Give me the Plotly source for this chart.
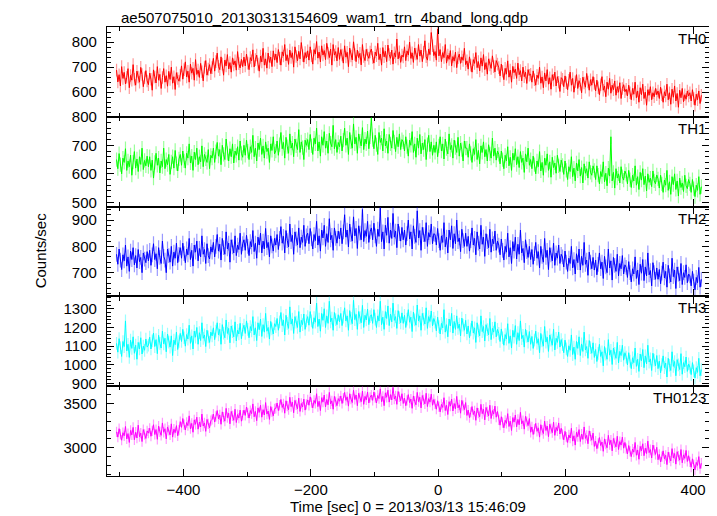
import numpy as np
import plotly.graph_objects as go
from plotly.subplots import make_subplots

TITLE = "ae507075010_20130313154609_wam1_trn_4band_long.qdp"
X_TITLE = "Time [sec] 0 = 2013/03/13 15:46:09"
Y_TITLE = "Counts/sec"
T_START = -505.0
BIN = 2.0

band_names = ["TH0", "TH1", "TH2", "TH3", "TH0123"]

th0 = [
    688, 641, 670, 625, 702, 655, 679, 633, 660, 694, 618, 667, 648, 710, 652, 628, 684, 661, 640, 699, 671, 622, 658, 686, 645,
    630, 676, 652, 608, 689, 661, 637, 702, 648, 671, 615, 659, 694, 640, 666, 624, 683, 651, 700, 636, 662, 611, 678, 655, 644,
    668, 705, 652, 690, 721, 661, 684, 640, 712, 676, 695, 648, 730, 671, 688, 659, 715, 682, 645, 700, 726, 668, 692, 710, 674,
    698, 735, 684, 722, 756, 703, 690, 741, 712, 668, 728, 705, 750, 693, 718, 680, 737, 709, 725, 688, 762, 714, 697, 731, 702,
    740, 705, 752, 716, 690, 738, 725, 769, 701, 730, 748, 712, 684, 744, 721, 775, 708, 733, 696, 756, 719, 740, 702, 765, 728,
    752, 718, 770, 735, 708, 761, 744, 790, 726, 749, 711, 768, 738, 757, 700, 781, 742, 725, 763, 733, 798, 746, 720, 758, 737,
    765, 728, 781, 744, 712, 770, 752, 802, 736, 760, 721, 785, 748, 766, 730, 795, 755, 738, 772, 708, 790, 748, 762, 725, 778,
    731, 770, 748, 716, 785, 740, 759, 702, 776, 744, 729, 801, 750, 722, 768, 738, 755, 709, 790, 742, 726, 771, 748, 735, 760,
    772, 738, 716, 760, 745, 795, 730, 752, 708, 778, 741, 763, 722, 788, 750, 735, 768, 712, 757, 740, 812, 733, 761, 719, 748,
    740, 781, 726, 765, 748, 800, 735, 757, 719, 776, 752, 731, 790, 744, 768, 722, 759, 805, 741, 728, 772, 750, 838, 785, 746,
    762, 728, 852, 745, 770, 722, 758, 738, 790, 716, 748, 731, 766, 705, 742, 724, 760, 698, 737, 752, 715, 741, 727, 775, 710,
    725, 692, 741, 708, 680, 730, 715, 758, 698, 722, 685, 737, 704, 750, 690, 718, 672, 733, 709, 695, 745, 702, 681, 726, 712,
    698, 665, 712, 684, 650, 695, 672, 725, 660, 688, 640, 703, 678, 692, 655, 716, 670, 686, 645, 700, 662, 680, 635, 690, 668,
    672, 640, 685, 650, 628, 668, 655, 700, 636, 661, 618, 677, 645, 690, 632, 658, 612, 670, 648, 680, 625, 662, 640, 603, 658,
    652, 622, 665, 638, 610, 648, 680, 628, 655, 600, 642, 670, 615, 646, 632, 598, 660, 637, 620, 675, 641, 608, 650, 628, 662,
    635, 605, 648, 618, 590, 630, 662, 608, 625, 582, 640, 612, 655, 596, 628, 610, 645, 588, 622, 600, 638, 575, 615, 630, 602,
    612, 585, 628, 598, 570, 615, 592, 640, 578, 605, 560, 618, 590, 632, 575, 600, 548, 610, 588, 622, 570, 598, 582, 615, 590,
    605, 575, 620, 590, 560, 602, 585, 632, 570, 598, 552, 612, 580, 625, 565, 595, 540, 608, 578, 615, 562, 590, 572, 605, 585,
    598, 565, 610, 575, 548, 592, 570, 605, 555, 588]

th1 = [
    650, 618, 671, 632, 600, 655, 640, 688, 612, 645, 625, 666, 595, 641, 678, 620, 652, 608, 660, 633, 690, 615, 647, 628, 662,
    625, 660, 612, 648, 585, 640, 672, 630, 655, 603, 645, 625, 690, 618, 650, 632, 668, 598, 642, 660, 620, 682, 636, 610, 652,
    668, 630, 680, 645, 620, 672, 655, 705, 638, 662, 612, 676, 650, 690, 632, 660, 642, 698, 625, 668, 652, 640, 685, 618, 665,
    655, 690, 640, 678, 710, 662, 685, 632, 700, 668, 650, 722, 672, 645, 688, 660, 705, 638, 680, 665, 695, 648, 715, 672, 658,
    700, 665, 718, 680, 650, 695, 675, 735, 660, 690, 645, 708, 685, 725, 668, 698, 655, 712, 678, 690, 640, 705, 682, 730, 670,
    680, 715, 665, 702, 745, 688, 710, 655, 728, 695, 672, 740, 690, 708, 660, 722, 698, 685, 755, 675, 712, 692, 650, 718, 700,
    720, 685, 738, 698, 668, 725, 705, 760, 680, 712, 662, 730, 700, 748, 690, 715, 672, 742, 708, 695, 770, 688, 720, 675, 710,
    695, 732, 680, 718, 760, 700, 725, 668, 745, 712, 690, 775, 705, 728, 672, 740, 715, 698, 762, 685, 722, 705, 750, 688, 730,
    795, 720, 688, 735, 702, 668, 745, 710, 725, 680, 758, 698, 715, 672, 738, 705, 690, 752, 712, 678, 728, 695, 740, 685, 720,
    712, 680, 730, 695, 662, 718, 700, 748, 675, 705, 658, 725, 690, 738, 670, 708, 685, 720, 650, 702, 735, 678, 712, 665, 700,
    675, 712, 660, 698, 730, 680, 705, 652, 722, 688, 670, 740, 685, 700, 655, 718, 692, 675, 728, 662, 708, 685, 645, 715, 690,
    690, 658, 705, 672, 640, 688, 668, 720, 650, 682, 635, 698, 675, 712, 660, 685, 645, 702, 670, 655, 725, 662, 690, 648, 680,
    668, 635, 680, 650, 618, 665, 645, 695, 628, 658, 612, 672, 648, 688, 632, 660, 622, 678, 640, 655, 605, 670, 642, 690, 630,
    650, 618, 662, 632, 600, 645, 625, 678, 610, 640, 595, 655, 630, 670, 612, 642, 588, 658, 622, 638, 602, 665, 628, 608, 648,
    630, 598, 645, 612, 580, 625, 608, 660, 590, 620, 575, 638, 610, 650, 592, 622, 568, 635, 602, 618, 585, 642, 605, 595, 628,
    612, 580, 628, 595, 565, 608, 590, 642, 572, 602, 558, 620, 592, 730, 575, 605, 550, 618, 585, 600, 568, 625, 590, 578, 610,
    598, 565, 612, 580, 552, 595, 575, 628, 560, 590, 545, 605, 578, 618, 562, 592, 540, 600, 570, 585, 555, 610, 575, 565, 596,
    582, 550, 595, 565, 535, 578, 560, 612, 542, 572, 528, 590, 562, 600, 545, 575, 522, 585, 552, 568, 538, 595, 558, 548, 580,
    565, 535, 580, 548, 520, 560, 542, 590, 528, 555]

th2 = [
    770, 732, 790, 748, 712, 768, 745, 805, 725, 760, 705, 782, 750, 795, 730, 765, 718, 788, 742, 758, 700, 775, 752, 738, 780,
    745, 785, 728, 768, 810, 750, 772, 715, 795, 758, 735, 820, 762, 748, 700, 790, 765, 740, 800, 725, 778, 755, 812, 738, 770,
    795, 755, 812, 772, 738, 790, 768, 830, 750, 785, 725, 805, 778, 820, 745, 792, 760, 840, 770, 788, 735, 810, 765, 752, 798,
    778, 815, 760, 800, 845, 782, 808, 748, 830, 795, 770, 855, 790, 812, 740, 825, 798, 775, 840, 765, 805, 788, 850, 770, 810,
    825, 785, 842, 800, 765, 818, 798, 860, 780, 812, 755, 835, 805, 850, 775, 820, 790, 868, 795, 815, 760, 840, 802, 782, 830,
    805, 845, 788, 830, 875, 812, 838, 775, 860, 822, 798, 885, 818, 842, 770, 855, 828, 805, 870, 795, 835, 815, 880, 800, 840,
    850, 810, 868, 828, 790, 845, 822, 895, 805, 840, 782, 862, 832, 880, 800, 848, 815, 905, 825, 842, 785, 870, 830, 812, 858,
    828, 870, 810, 855, 920, 835, 862, 798, 885, 845, 820, 912, 840, 868, 792, 878, 850, 825, 940, 818, 860, 838, 895, 815, 855,
    870, 825, 888, 840, 800, 865, 838, 945, 818, 855, 790, 880, 842, 910, 812, 862, 830, 925, 835, 858, 795, 885, 848, 820, 872,
    825, 862, 805, 848, 900, 828, 855, 790, 878, 838, 815, 935, 832, 860, 785, 872, 845, 818, 890, 800, 852, 835, 885, 810, 848,
    845, 805, 868, 822, 785, 840, 815, 890, 798, 835, 775, 862, 825, 878, 792, 848, 810, 900, 818, 832, 780, 865, 822, 800, 850,
    800, 838, 782, 822, 870, 805, 830, 768, 855, 812, 790, 880, 808, 835, 762, 848, 818, 795, 865, 778, 828, 810, 858, 785, 820,
    805, 768, 828, 785, 748, 800, 778, 850, 760, 795, 735, 818, 782, 835, 752, 808, 770, 862, 775, 792, 738, 825, 780, 758, 800,
    750, 788, 732, 772, 815, 755, 780, 718, 800, 762, 740, 830, 758, 785, 712, 795, 768, 745, 812, 728, 775, 755, 805, 735, 770,
    760, 722, 782, 740, 705, 755, 735, 800, 718, 750, 695, 772, 738, 790, 710, 762, 728, 815, 732, 748, 690, 778, 740, 715, 758,
    710, 748, 692, 732, 775, 715, 740, 678, 762, 722, 700, 790, 718, 745, 672, 758, 728, 705, 770, 688, 735, 715, 765, 695, 730,
    720, 682, 742, 700, 665, 715, 695, 760, 678, 710, 655, 732, 698, 750, 670, 722, 688, 775, 692, 708, 650, 738, 700, 675, 718,
    675, 712, 658, 698, 740, 680, 705, 645, 728, 688, 665, 755, 685, 710, 640, 722, 695, 670, 735, 655, 700, 682, 730, 662, 695,
    688, 650, 705, 668, 635, 682, 662, 720, 645, 675]

th3 = [
    1115, 1068, 1140, 1092, 1045, 1125, 1098, 1235, 1075, 1110, 1040, 1132, 1088, 1150, 1062, 1105, 1030, 1120, 1085, 1145, 1058, 1100, 1078, 1138, 1095,
    1105, 1148, 1085, 1128, 1170, 1098, 1135, 1060, 1158, 1115, 1090, 1180, 1112, 1142, 1070, 1165, 1122, 1095, 1155, 1050, 1132, 1108, 1175, 1082, 1125,
    1168, 1125, 1190, 1145, 1100, 1162, 1138, 1212, 1115, 1155, 1085, 1180, 1148, 1200, 1110, 1172, 1130, 1225, 1142, 1160, 1098, 1185, 1150, 1120, 1175,
    1155, 1198, 1135, 1180, 1225, 1160, 1190, 1110, 1215, 1170, 1145, 1240, 1168, 1195, 1118, 1208, 1178, 1150, 1230, 1128, 1185, 1165, 1222, 1140, 1188,
    1212, 1168, 1235, 1190, 1145, 1205, 1182, 1258, 1160, 1198, 1130, 1225, 1188, 1245, 1152, 1215, 1175, 1275, 1180, 1200, 1138, 1232, 1192, 1165, 1220,
    1205, 1248, 1185, 1230, 1280, 1210, 1240, 1160, 1265, 1222, 1195, 1310, 1218, 1245, 1168, 1258, 1228, 1200, 1285, 1175, 1238, 1215, 1272, 1190, 1235,
    1258, 1212, 1285, 1235, 1195, 1252, 1228, 1330, 1205, 1245, 1180, 1275, 1238, 1300, 1200, 1262, 1222, 1340, 1230, 1250, 1185, 1280, 1242, 1215, 1268,
    1230, 1275, 1210, 1255, 1305, 1235, 1262, 1185, 1290, 1248, 1220, 1345, 1242, 1270, 1190, 1285, 1252, 1225, 1318, 1200, 1265, 1240, 1298, 1215, 1258,
    1268, 1222, 1295, 1245, 1200, 1262, 1235, 1340, 1215, 1255, 1190, 1285, 1248, 1315, 1210, 1272, 1230, 1330, 1238, 1258, 1195, 1290, 1252, 1225, 1278,
    1222, 1265, 1200, 1245, 1295, 1228, 1255, 1178, 1282, 1240, 1212, 1320, 1235, 1262, 1185, 1275, 1245, 1218, 1305, 1195, 1258, 1232, 1288, 1208, 1248,
    1228, 1182, 1255, 1205, 1165, 1222, 1198, 1295, 1175, 1215, 1150, 1245, 1208, 1275, 1170, 1232, 1190, 1262, 1195, 1218, 1155, 1250, 1212, 1185, 1238,
    1165, 1208, 1145, 1188, 1235, 1170, 1198, 1120, 1225, 1182, 1155, 1262, 1178, 1205, 1128, 1215, 1188, 1160, 1248, 1135, 1195, 1175, 1230, 1150, 1190,
    1168, 1125, 1192, 1145, 1105, 1162, 1138, 1220, 1115, 1155, 1090, 1185, 1148, 1210, 1110, 1172, 1130, 1235, 1140, 1158, 1095, 1190, 1152, 1122, 1178,
    1110, 1152, 1088, 1132, 1180, 1115, 1140, 1065, 1168, 1128, 1100, 1205, 1122, 1148, 1072, 1160, 1132, 1105, 1190, 1080, 1142, 1120, 1175, 1095, 1135,
    1108, 1065, 1132, 1085, 1045, 1102, 1078, 1160, 1055, 1095, 1030, 1125, 1088, 1150, 1050, 1112, 1072, 1175, 1080, 1098, 1035, 1130, 1092, 1062, 1118,
    1040, 1082, 1018, 1062, 1110, 1045, 1070, 995, 1098, 1058, 1030, 1135, 1052, 1078, 1002, 1090, 1062, 1035, 1120, 1010, 1072, 1050, 1105, 1025, 1065,
    1042, 1000, 1065, 1020, 980, 1038, 1012, 1090, 992, 1030, 965, 1058, 1022, 1082, 985, 1048, 1005, 1105, 1015, 1032, 970, 1062, 1025, 995, 1050,
    980, 1020, 958, 1002, 1048, 985, 1010, 935, 1035, 998, 970, 1070, 992, 1018, 942, 1028, 1000, 975, 1060, 950, 1012, 990, 1042, 965, 1005,
    988, 948, 1012, 968, 930, 985, 960, 1035, 942, 975]

th0123 = [
    3180, 3120, 3215, 3150, 3085, 3170, 3135, 3240, 3100, 3160, 3060, 3195, 3145, 3230, 3090, 3175, 3110, 3255, 3125, 3165, 3070, 3205, 3150, 3105, 3190,
    3165, 3220, 3130, 3190, 3260, 3150, 3205, 3095, 3245, 3180, 3140, 3280, 3175, 3215, 3100, 3235, 3195, 3145, 3270, 3120, 3210, 3170, 3250, 3135, 3200,
    3295, 3230, 3330, 3260, 3200, 3285, 3250, 3360, 3215, 3275, 3175, 3315, 3265, 3345, 3210, 3290, 3235, 3380, 3245, 3280, 3185, 3320, 3270, 3225, 3305,
    3320, 3380, 3290, 3355, 3420, 3325, 3370, 3265, 3405, 3345, 3300, 3445, 3340, 3390, 3270, 3410, 3360, 3310, 3435, 3285, 3375, 3335, 3425, 3300, 3365,
    3425, 3365, 3460, 3395, 3335, 3420, 3385, 3495, 3350, 3410, 3305, 3450, 3400, 3480, 3345, 3430, 3370, 3510, 3380, 3415, 3320, 3465, 3405, 3360, 3440,
    3445, 3505, 3420, 3480, 3545, 3455, 3495, 3390, 3530, 3470, 3430, 3570, 3465, 3515, 3395, 3535, 3485, 3440, 3560, 3410, 3500, 3460, 3550, 3425, 3490,
    3540, 3480, 3575, 3510, 3450, 3535, 3500, 3610, 3465, 3525, 3420, 3565, 3515, 3595, 3460, 3545, 3485, 3625, 3495, 3530, 3435, 3580, 3520, 3475, 3555,
    3525, 3585, 3500, 3560, 3625, 3535, 3575, 3470, 3610, 3550, 3510, 3650, 3545, 3595, 3475, 3615, 3565, 3520, 3640, 3490, 3580, 3540, 3630, 3505, 3570,
    3595, 3535, 3630, 3565, 3505, 3590, 3555, 3665, 3520, 3580, 3475, 3620, 3570, 3650, 3515, 3600, 3540, 3680, 3550, 3585, 3490, 3635, 3575, 3530, 3610,
    3500, 3560, 3475, 3535, 3600, 3510, 3550, 3445, 3585, 3525, 3485, 3625, 3520, 3570, 3450, 3590, 3540, 3495, 3615, 3465, 3555, 3515, 3605, 3480, 3545,
    3495, 3435, 3530, 3465, 3405, 3490, 3455, 3565, 3420, 3480, 3375, 3520, 3470, 3550, 3415, 3500, 3440, 3580, 3450, 3485, 3390, 3535, 3475, 3430, 3510,
    3365, 3425, 3340, 3400, 3465, 3375, 3415, 3310, 3450, 3390, 3350, 3490, 3385, 3435, 3315, 3455, 3405, 3360, 3480, 3330, 3420, 3380, 3470, 3345, 3410,
    3315, 3255, 3350, 3285, 3225, 3310, 3275, 3385, 3240, 3300, 3195, 3340, 3290, 3370, 3235, 3320, 3260, 3400, 3270, 3305, 3210, 3355, 3295, 3250, 3330,
    3175, 3235, 3150, 3210, 3275, 3185, 3225, 3120, 3260, 3200, 3160, 3300, 3195, 3245, 3125, 3265, 3215, 3170, 3290, 3140, 3230, 3190, 3280, 3155, 3220,
    3150, 3090, 3185, 3120, 3060, 3145, 3110, 3220, 3075, 3135, 3030, 3175, 3125, 3205, 3070, 3155, 3095, 3235, 3105, 3140, 3045, 3190, 3130, 3085, 3165,
    3015, 3075, 2990, 3050, 3115, 3025, 3065, 2960, 3100, 3040, 3000, 3140, 3035, 3085, 2965, 3105, 3055, 3010, 3130, 2980, 3070, 3030, 3120, 2995, 3060,
    2990, 2930, 3025, 2960, 2900, 2985, 2950, 3060, 2915, 2975, 2870, 3015, 2965, 3045, 2910, 2995, 2935, 3075, 2945, 2980, 2885, 3030, 2970, 2925, 3005,
    2865, 2925, 2840, 2900, 2965, 2875, 2915, 2810, 2950, 2890, 2850, 2990, 2885, 2935, 2815, 2955, 2905, 2860, 2980, 2830, 2920, 2880, 2970, 2845, 2910,
    2840, 2780, 2875, 2810, 2750, 2835, 2800, 2900, 2765, 2825]

errors = [25, 25, 28, 34, 58]
series = [th0, th1, th2, th3, th0123]

colors = ["#ff0000", "#00ff00", "#0000ff", "#00ffff", "#ff00ff"]
err_colors = ["rgba(255,0,0,0.4)", "rgba(0,255,0,0.4)", "rgba(0,0,255,0.4)",
              "rgba(0,255,255,0.4)", "rgba(255,0,255,0.4)"]
y_ranges = [[502, 860], [485, 800], [610, 951], [886, 1366], [2681, 3695]]
y_dticks = [100, 100, 100, 100, 500]
y_minor = [20, 20, 20, 20, 100]

FONT = "Liberation Sans, Arial, Helvetica, sans-serif"

fig = make_subplots(rows=5, cols=1, shared_xaxes=True, vertical_spacing=0)

for i, vals in enumerate(series):
    t = T_START + BIN * np.arange(len(vals))
    fig.add_trace(go.Scatter(
        x=t, y=vals, mode="lines",
        line=dict(color=colors[i], width=1),
        error_y=dict(type="constant", value=errors[i], color=err_colors[i],
                     thickness=1.2, width=0),
        showlegend=False, name=band_names[i]), row=i + 1, col=1)
    fig.update_yaxes(range=y_ranges[i], dtick=y_dticks[i], tick0=0,
                     minor=dict(dtick=y_minor[i], tick0=0, ticks="inside",
                                ticklen=4, tickcolor="black"),
                     row=i + 1, col=1)
    fig.add_annotation(text=band_names[i], xref="x domain", yref="y domain",
                       x=1, y=1, xanchor="right", yanchor="top", xshift=-1, yshift=-1,
                       showarrow=False, font=dict(size=15, color="black", family=FONT),
                       row=i + 1, col=1)

fig.update_xaxes(range=[-520, 425], dtick=200, tick0=0, ticks="inside", ticklen=7,
                 minor=dict(dtick=100, tick0=0, ticks="inside", ticklen=4, tickcolor="black"),
                 showline=True, mirror="ticks", linecolor="black", linewidth=1.3,
                 tickcolor="black", showgrid=False, zeroline=False,
                 tickfont=dict(size=15, color="black", family=FONT))
fig.update_yaxes(ticks="inside", ticklen=7, showline=True, mirror="ticks",
                 linecolor="black", linewidth=1.3, tickcolor="black",
                 showgrid=False, zeroline=False, ticklabelstandoff=6,
                 tickfont=dict(size=15, color="black", family=FONT))

# Page body has an 8px default margin; figure is sized so it fits the 717x516 window.
fig.add_annotation(text=TITLE, xref="paper", yref="paper", x=0.02, y=1.022,
                   xanchor="left", yanchor="middle", showarrow=False,
                   font=dict(size=15, color="black", family=FONT))
fig.add_annotation(text=Y_TITLE, xref="paper", yref="paper", x=-0.111, y=0.503,
                   xanchor="center", yanchor="middle", textangle=-90, showarrow=False,
                   font=dict(size=15, color="black", family=FONT))
fig.add_annotation(text=X_TITLE, xref="paper", yref="paper", x=0.5, y=-0.069,
                   xanchor="center", yanchor="middle", showarrow=False,
                   font=dict(size=15, color="black", family=FONT))

fig.update_layout(width=709, height=508, margin=dict(l=99, r=8, t=19, b=40),
                  paper_bgcolor="white", plot_bgcolor="white",
                  font=dict(family=FONT, color="black"))

fig.write_html("out.html")
